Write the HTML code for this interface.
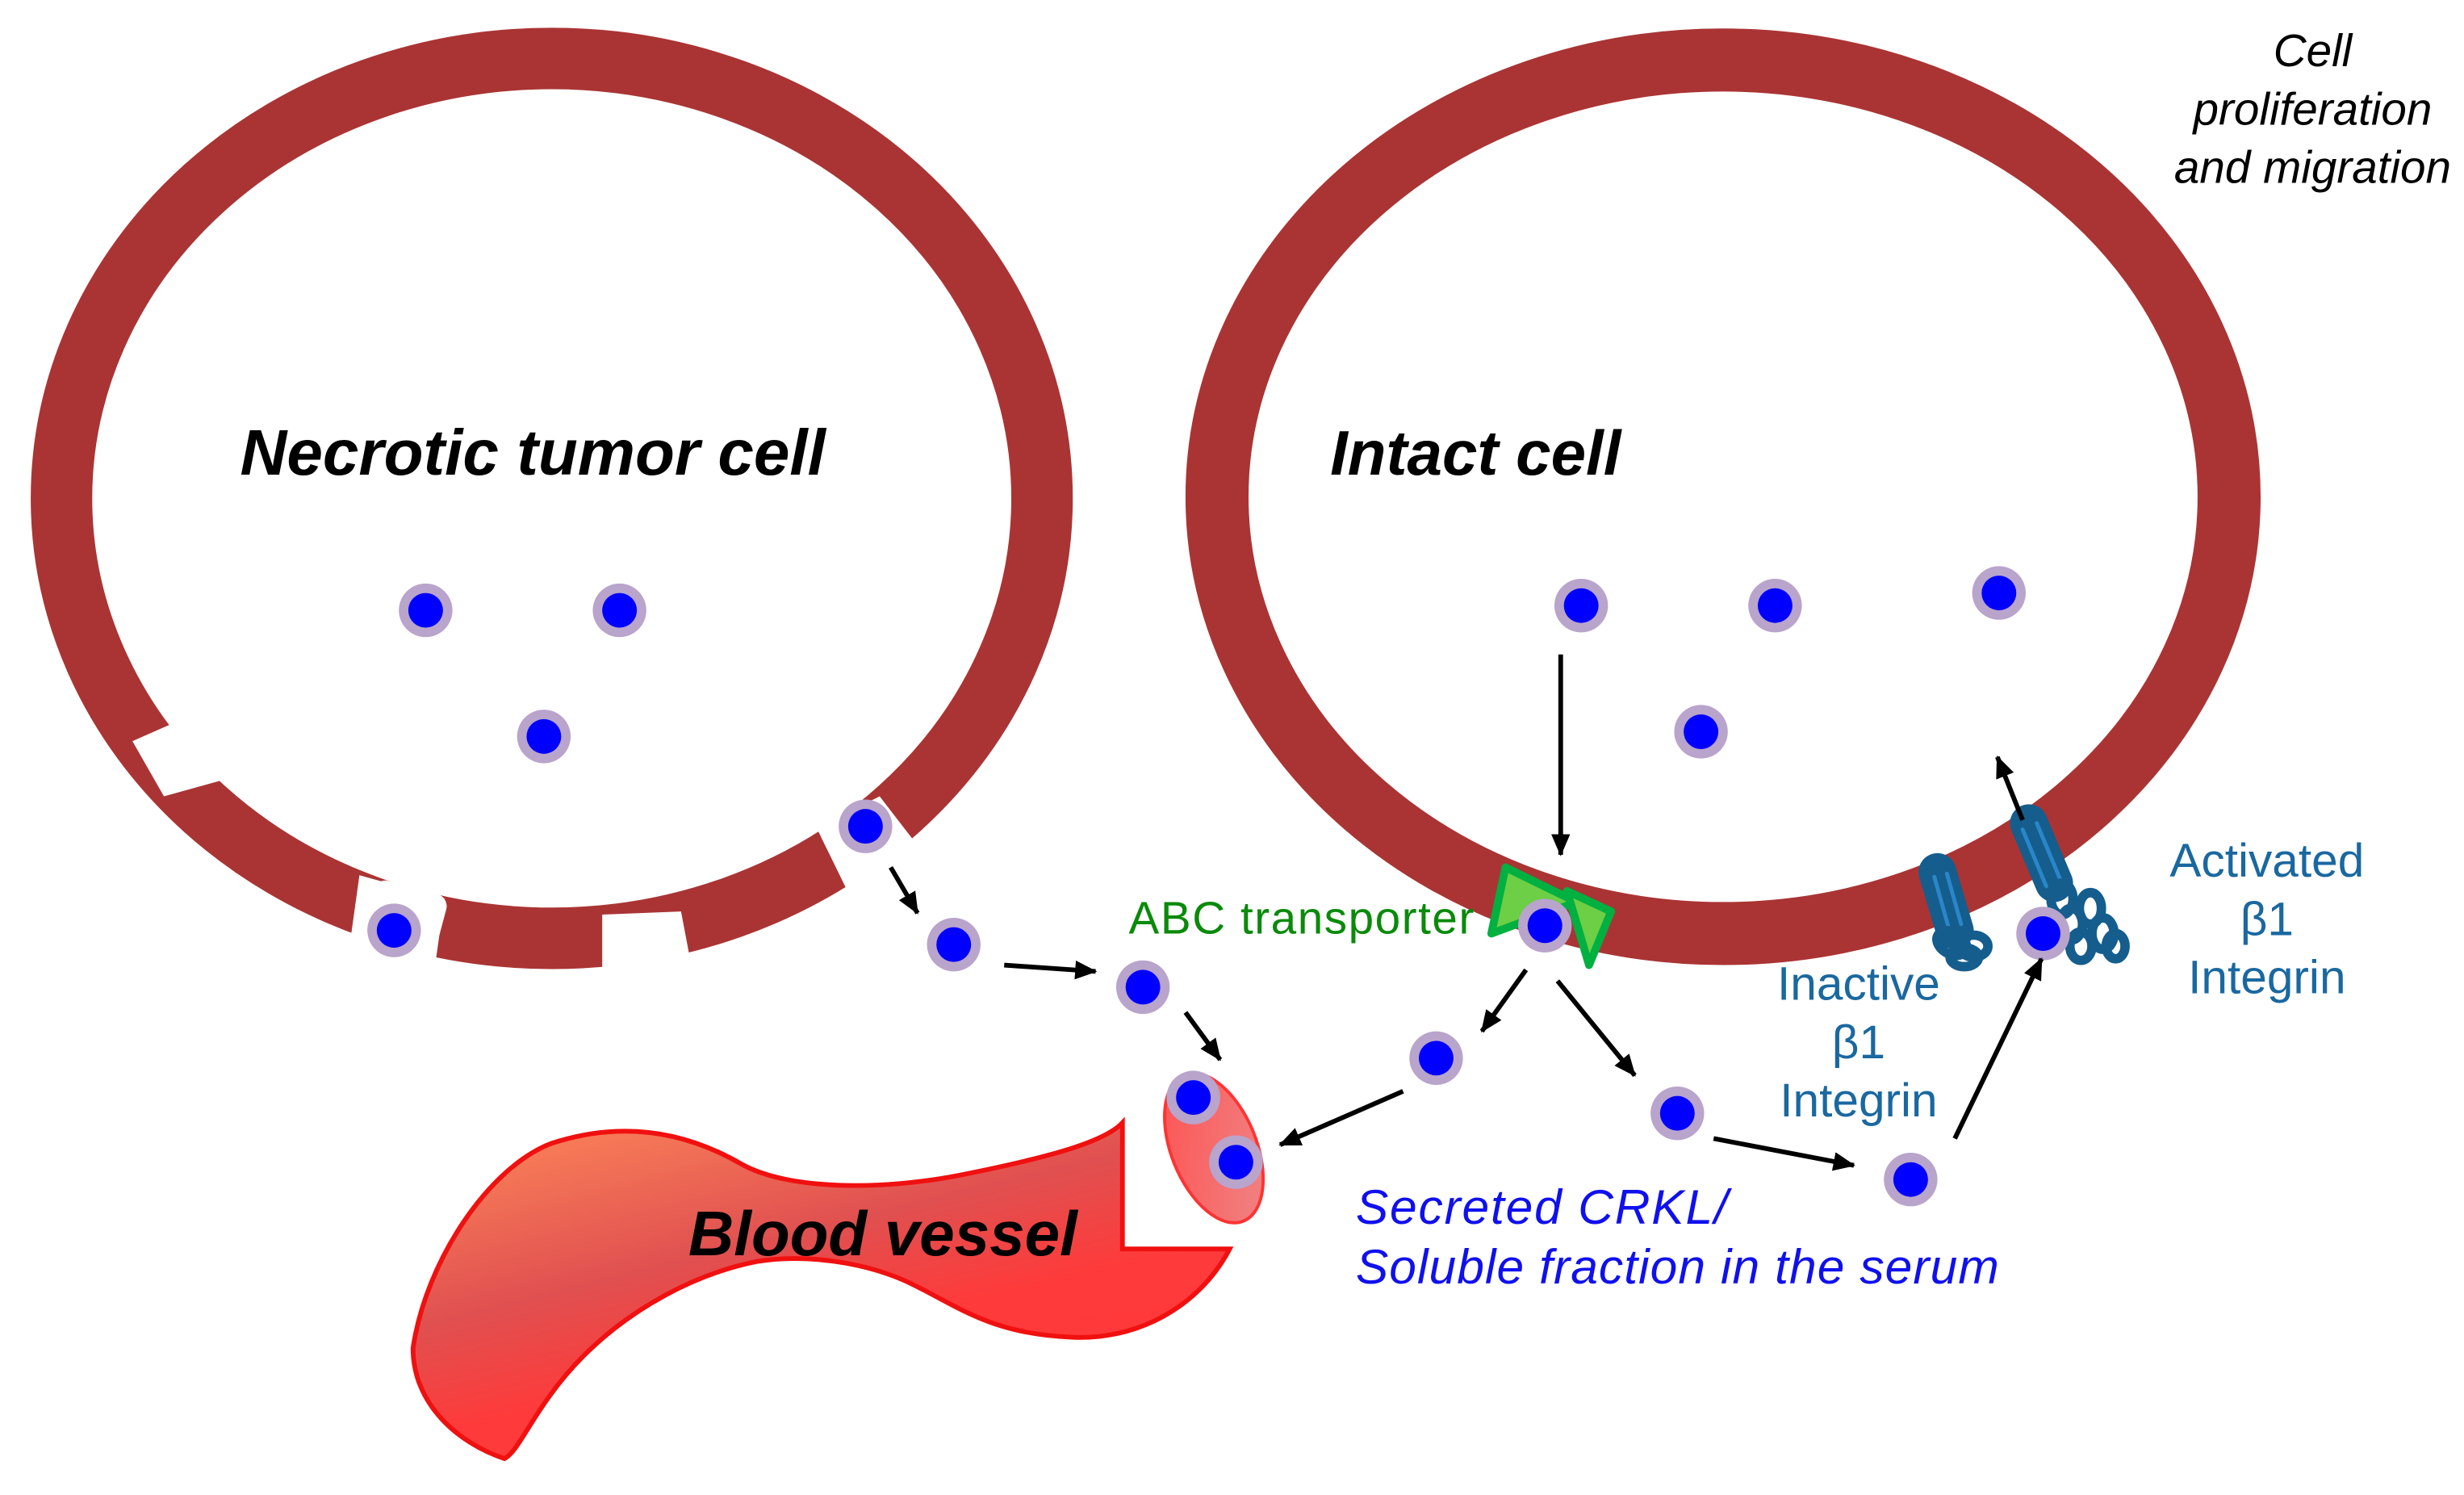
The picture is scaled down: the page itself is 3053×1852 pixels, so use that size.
<!DOCTYPE html>
<html><head><meta charset="utf-8"><style>html,body{margin:0;padding:0;background:#fff}svg{display:block}</style></head>
<body>
<svg width="3053" height="1852" viewBox="0 0 1563 948" xmlns="http://www.w3.org/2000/svg" font-family="Liberation Sans, sans-serif">
<defs>
<marker id="ah" markerWidth="14" markerHeight="12" refX="13" refY="6" orient="auto" markerUnits="userSpaceOnUse" viewBox="0 0 14 12"><path d="M0,0 L14,6 L0,12 z" fill="#000"/></marker>
<linearGradient id="bv" x1="0" y1="0" x2="0.6" y2="1"><stop offset="0" stop-color="#ff8a5a"/><stop offset="0.45" stop-color="#e05050"/><stop offset="0.7" stop-color="#ff3a3a"/><stop offset="1" stop-color="#ff3838"/></linearGradient>
<linearGradient id="ov" x1="0" y1="0" x2="1" y2="1"><stop offset="0" stop-color="#ff5050"/><stop offset="1" stop-color="#e88"/></linearGradient>
<g id="dot"><circle r="17" fill="#b9a4cc"/><circle r="11" fill="#0000ff"/></g>
</defs>

<!-- Necrotic cell -->
<ellipse cx="350" cy="316" rx="311" ry="279" fill="none" stroke="#aa3434" stroke-width="39"/>
<polygon points="84,470 118,455 140,495 104,505" fill="#fff"/>
<polygon points="228,555 282,570 276,612 222,598" fill="#fff"/>
<polygon points="382,580 432,578 440,620 382,622" fill="#fff"/>
<polygon points="518,525 558,505 585,540 540,570" fill="#fff"/>
<rect x="232" y="562" width="48" height="46" rx="8" fill="#fff" transform="rotate(15 256 585)"/>

<!-- Intact cell -->
<ellipse cx="1093" cy="315" rx="321" ry="277" fill="none" stroke="#aa3434" stroke-width="40"/>

<!-- Blood vessel -->
<path d="M262,855 C270,800 310,740 350,725 C390,712 430,715 470,738 C500,755 560,755 610,745 C660,735 700,725 712,712 L712,792 L780,792 C760,830 720,850 680,848 C630,846 610,830 580,815 C550,800 510,795 480,800 C440,808 400,830 370,860 C340,890 330,920 320,925 C290,915 262,890 262,855 Z" fill="url(#bv)" stroke="#f01010" stroke-width="3"/>
<ellipse cx="770" cy="728" rx="27" ry="50" transform="rotate(-22 770 728)" fill="url(#ov)" stroke="#f33" stroke-width="2"/>

<!-- Texts -->
<text x="338" y="301" font-size="41" font-weight="bold" font-style="italic" text-anchor="middle">Necrotic tumor cell</text>
<text x="936" y="301" font-size="40" font-weight="bold" font-style="italic" text-anchor="middle">Intact cell</text>
<text x="560" y="796" font-size="40" font-weight="bold" font-style="italic" text-anchor="middle">Blood vessel</text>
<g font-size="29" font-style="italic" text-anchor="middle" fill="#000">
<text x="1467" y="42">Cell</text><text x="1467" y="79">proliferation</text><text x="1467" y="116">and migration</text>
</g>
<text x="716" y="592" font-size="29" fill="#0a8a0a" textLength="219">ABC transporter</text>
<g font-size="30" fill="#1a68a0" text-anchor="middle">
<text x="1438" y="556">Activated</text><text x="1438" y="593">β1</text><text x="1438" y="630">Integrin</text>
<text x="1179" y="634">Inactive</text><text x="1179" y="671">β1</text><text x="1179" y="708">Integrin</text>
</g>
<g font-size="31" font-style="italic" fill="#1010ee">
<text x="860" y="776" textLength="236">Secreted CRKL/</text><text x="860" y="814" textLength="408">Soluble fraction in the serum</text>
</g>

<!-- ABC transporter -->
<polygon points="955,550 1000,572 946,592" fill="#6ccf45" stroke="#00b040" stroke-width="5" stroke-linejoin="round"/>
<polygon points="994,565 1022,578 1008,612" fill="#6ccf45" stroke="#00b040" stroke-width="5" stroke-linejoin="round"/>

<!-- Integrins -->
<g fill="none" stroke="#155d8d" stroke-linecap="round">
<path d="M1229,553 L1240,590" stroke-width="24"/>
<path d="M1227,556 L1236,588 M1235,554 L1244,586" stroke="#2a86c8" stroke-width="2.5"/>
<ellipse cx="1238" cy="598" rx="10" ry="7" stroke-width="6" transform="rotate(30 1238 598)"/>
<ellipse cx="1252" cy="600" rx="9" ry="7" stroke-width="6"/>
<ellipse cx="1246" cy="607" rx="9" ry="6" stroke-width="6"/>
<path d="M1287,522 L1303,560" stroke-width="24"/>
<path d="M1283,526 L1298,562 M1292,522 L1307,558" stroke="#2a86c8" stroke-width="2.5"/>
<ellipse cx="1308" cy="570" rx="7" ry="10" stroke-width="6"/>
<ellipse cx="1314" cy="586" rx="7" ry="10" stroke-width="6"/>
<ellipse cx="1320" cy="600" rx="7" ry="9" stroke-width="6"/>
<ellipse cx="1326" cy="576" rx="7" ry="10" stroke-width="6"/>
<ellipse cx="1334" cy="592" rx="7" ry="10" stroke-width="6"/>
<ellipse cx="1342" cy="600" rx="6" ry="8" stroke-width="6"/>
</g>

<!-- Dots -->
<use href="#dot" x="270" y="387"/><use href="#dot" x="393" y="387"/><use href="#dot" x="345" y="467"/>
<use href="#dot" x="250" y="590"/><use href="#dot" x="549" y="524"/><use href="#dot" x="605" y="599"/>
<use href="#dot" x="725" y="626"/><use href="#dot" x="757" y="696"/><use href="#dot" x="784" y="737"/>
<use href="#dot" x="1003" y="384"/><use href="#dot" x="1126" y="384"/><use href="#dot" x="1268" y="376"/>
<use href="#dot" x="1079" y="464"/><use href="#dot" x="980" y="587"/><use href="#dot" x="911" y="671"/>
<use href="#dot" x="1064" y="706"/><use href="#dot" x="1212" y="748"/><use href="#dot" x="1296" y="592"/>

<!-- Arrows -->
<g stroke="#000" stroke-width="3" fill="none" marker-end="url(#ah)">
<line x1="565" y1="550" x2="582" y2="579"/>
<line x1="637" y1="612" x2="695" y2="616"/>
<line x1="752" y1="642" x2="774" y2="672"/>
<line x1="990" y1="415" x2="990" y2="542"/>
<line x1="968" y1="615" x2="940" y2="654"/>
<line x1="890" y1="692" x2="812" y2="726"/>
<line x1="988" y1="622" x2="1037" y2="682"/>
<line x1="1087" y1="722" x2="1176" y2="739"/>
<line x1="1240" y1="722" x2="1295" y2="608"/>
<line x1="1283" y1="520" x2="1267" y2="480"/>
</g>
</svg>
</body></html>
